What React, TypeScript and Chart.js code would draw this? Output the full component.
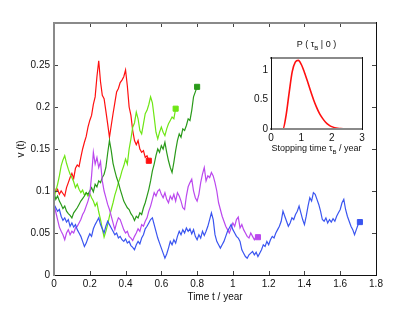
import React, { useEffect, useRef } from 'react';
import { Chart, registerables } from 'chart.js';
Chart.register(...registerables);

// ---- main chart data (time step between samples, in years) ----
const DT = 0.01;

const redV = [
  0.105, 0.099, 0.102, 0.096, 0.100, 0.097, 0.094, 0.104, 0.110, 0.116,
  0.121, 0.115, 0.127, 0.131, 0.129, 0.140, 0.150, 0.158, 0.165, 0.176,
  0.184, 0.190, 0.203, 0.212, 0.236, 0.255, 0.230, 0.214, 0.210, 0.195,
  0.180, 0.164, 0.178, 0.192, 0.205, 0.218, 0.222, 0.229, 0.232, 0.236,
  0.244, 0.225, 0.200, 0.190, 0.172, 0.160, 0.155, 0.160, 0.150, 0.146,
  0.148, 0.140, 0.142, 0.136,
];

const limeV = [
  0.092, 0.100, 0.108, 0.118, 0.130, 0.137, 0.142, 0.133, 0.126, 0.120,
  0.116, 0.111, 0.104, 0.108, 0.102, 0.098, 0.101, 0.095, 0.098, 0.094,
  0.097, 0.092, 0.088, 0.082, 0.086, 0.075, 0.066, 0.055, 0.045, 0.052,
  0.060, 0.070, 0.078, 0.086, 0.095, 0.102, 0.110, 0.116, 0.124, 0.130,
  0.138, 0.132, 0.150, 0.162, 0.176, 0.181, 0.194, 0.186, 0.172, 0.168,
  0.180, 0.192, 0.196, 0.203, 0.212, 0.205, 0.188, 0.170, 0.162, 0.170,
  0.176, 0.170, 0.166, 0.174, 0.180, 0.184, 0.188, 0.186, 0.198,
];

const greenV = [
  0.098, 0.090, 0.094, 0.088, 0.084, 0.079, 0.082, 0.076, 0.073, 0.071,
  0.068, 0.074, 0.077, 0.080, 0.084, 0.088, 0.091, 0.094, 0.098, 0.096,
  0.100, 0.104, 0.099, 0.108, 0.105, 0.112, 0.110, 0.116, 0.120, 0.128,
  0.145, 0.160, 0.148, 0.133, 0.124, 0.116, 0.110, 0.102, 0.095, 0.088,
  0.084, 0.080, 0.078, 0.073, 0.070, 0.065, 0.070, 0.068, 0.074, 0.072,
  0.080, 0.086, 0.094, 0.102, 0.112, 0.124, 0.132, 0.142, 0.150, 0.146,
  0.154, 0.150, 0.158, 0.146, 0.136, 0.128, 0.122, 0.134, 0.148, 0.160,
  0.168, 0.164, 0.174, 0.172, 0.178, 0.186, 0.184, 0.196, 0.212, 0.218,
  0.224,
];

const purpleV = [
  0.086, 0.075, 0.066, 0.057, 0.052, 0.048, 0.042, 0.050, 0.054, 0.048,
  0.052, 0.050, 0.056, 0.058, 0.062, 0.066, 0.072, 0.076, 0.082, 0.088,
  0.096, 0.118, 0.146, 0.132, 0.140, 0.128, 0.135, 0.112, 0.100, 0.092,
  0.084, 0.078, 0.070, 0.062, 0.054, 0.062, 0.068, 0.066, 0.060, 0.054,
  0.050, 0.052, 0.046, 0.044, 0.041, 0.046, 0.050, 0.055, 0.052, 0.060,
  0.058, 0.064, 0.068, 0.076, 0.082, 0.090, 0.098, 0.094, 0.100, 0.102,
  0.096, 0.092, 0.098, 0.090, 0.086, 0.094, 0.090, 0.096, 0.088, 0.098,
  0.094, 0.088, 0.080, 0.078, 0.094, 0.105, 0.110, 0.114, 0.100, 0.092,
  0.088, 0.096, 0.110, 0.120, 0.128, 0.112, 0.118, 0.116, 0.122, 0.118,
  0.110, 0.100, 0.086, 0.078, 0.070, 0.064, 0.058, 0.054, 0.050, 0.056,
  0.062, 0.058, 0.066, 0.069, 0.056, 0.060, 0.054, 0.050, 0.046, 0.044,
  0.050, 0.046, 0.042, 0.046, 0.045,
];

const blueV = [
  0.084, 0.080, 0.076, 0.078, 0.070, 0.065, 0.068, 0.063, 0.066, 0.058,
  0.062, 0.057, 0.060, 0.054, 0.050, 0.046, 0.040, 0.034, 0.038, 0.044,
  0.049, 0.046, 0.055, 0.060, 0.064, 0.068, 0.060, 0.055, 0.050, 0.058,
  0.064, 0.060, 0.056, 0.052, 0.048, 0.050, 0.044, 0.046, 0.042, 0.040,
  0.043, 0.038, 0.040, 0.035, 0.033, 0.030, 0.036, 0.040, 0.037, 0.044,
  0.048, 0.055, 0.058, 0.062, 0.066, 0.068, 0.060, 0.052, 0.044, 0.038,
  0.032, 0.026, 0.020, 0.025, 0.032, 0.040, 0.036, 0.042, 0.038, 0.046,
  0.052, 0.048, 0.054, 0.050, 0.056, 0.052, 0.055, 0.049, 0.054, 0.046,
  0.042, 0.048, 0.044, 0.052, 0.047, 0.052, 0.058, 0.066, 0.074, 0.066,
  0.048, 0.040, 0.036, 0.032, 0.036, 0.040, 0.046, 0.052, 0.056, 0.060,
  0.054, 0.050, 0.046, 0.044, 0.040, 0.030, 0.026, 0.022, 0.020, 0.024,
  0.026, 0.028, 0.024, 0.027, 0.022, 0.026, 0.030, 0.036, 0.034, 0.040,
  0.036, 0.042, 0.046, 0.044, 0.050, 0.054, 0.058, 0.064, 0.076, 0.070,
  0.064, 0.058, 0.062, 0.068, 0.066, 0.072, 0.076, 0.082, 0.074, 0.066,
  0.060, 0.070, 0.082, 0.092, 0.088, 0.098, 0.096, 0.090, 0.084, 0.076,
  0.066, 0.064, 0.068, 0.062, 0.066, 0.063, 0.067, 0.064, 0.070, 0.074,
  0.078, 0.086, 0.090, 0.078, 0.070, 0.064, 0.058, 0.054, 0.048, 0.054,
  0.060, 0.063,
];

const seriesNames = ['blue', 'purple', 'darkgreen', 'lime', 'red'];
const seriesValues = [blueV, purpleV, greenV, limeV, redV];
const seriesColors = ['#3a55f0', '#bb48ee', '#2a9a1a', '#6ee614', '#ff1010'];

const xTicks = [0, 0.2, 0.4, 0.6, 0.8, 1, 1.2, 1.4, 1.6, 1.8];
const xTickLabels = ['0', '0.2', '0.4', '0.6', '0.8', '1', '1.2', '1.4', '1.6', '1.8'];
const yTicks = [0, 0.05, 0.1, 0.15, 0.2, 0.25, 0.3];
const yTickLabels = ['0', '0.05', '0.1', '0.15', '0.2', '0.25', ''];

// ---- inset data ----
const tau = [
  0, 0.1, 0.2, 0.3, 0.4, 0.5, 0.6, 0.7, 0.8, 0.9, 1.0,
  1.1, 1.2, 1.3, 1.4, 1.5, 1.6, 1.7, 1.8, 1.9, 2.0,
  2.1, 2.2, 2.3, 2.4, 2.5, 2.6, 2.7, 2.8, 2.9, 3.0,
];
const pdf = [
  0, 0, 0, 0, 0.005, 0.24, 0.62, 0.97, 1.13, 1.16, 1.09,
  0.96, 0.81, 0.65, 0.50, 0.37, 0.26, 0.18, 0.115, 0.07, 0.04,
  0.022, 0.012, 0.006, 0.003, 0.001, 0, 0, 0, 0, 0,
];
const insetXTicks = [0, 1, 2, 3];
const insetXTickLabels = ['0', '1', '2', '3'];
const insetYTicks = [0, 0.5, 1];
const insetYTickLabels = ['0', '0.5', '1'];

const FONT = "'Liberation Sans', Arial, Helvetica, sans-serif";
const TEXT = '#111';

type FrameCfg = {
  left: [string, number];
  right: [string, number];
  top: [string, number];
  bottom: [string, number];
  xTicks?: number[];
  yTicks?: number[];
  tickLen?: number;
  tickColor?: string;
};

function makeFrame(cfg: FrameCfg) {
  return {
    id: 'frame',
    afterDatasetsDraw(chart: any) {
      const { ctx, chartArea: a, scales } = chart;
      ctx.save();
      const seg = (x1: number, y1: number, x2: number, y2: number, c: string, w: number) => {
        ctx.beginPath();
        ctx.strokeStyle = c;
        ctx.lineWidth = w;
        ctx.moveTo(x1, y1);
        ctx.lineTo(x2, y2);
        ctx.stroke();
      };
      const L = cfg.tickLen || 0;
      if (L > 0) {
        const tc = cfg.tickColor || '#333';
        (cfg.xTicks || []).forEach((v) => {
          const px = Math.round(scales.x.getPixelForValue(v)) + 0.5;
          seg(px, a.bottom, px, a.bottom - L, tc, 1);
          seg(px, a.top, px, a.top + L, tc, 1);
        });
        (cfg.yTicks || []).forEach((v) => {
          const py = Math.round(scales.y.getPixelForValue(v)) + 0.5;
          seg(a.left, py, a.left + L, py, tc, 1);
          seg(a.right, py, a.right - L, py, tc, 1);
        });
      }
      const off = (w: number) => (w % 2 === 1 ? 0.5 : 0);
      seg(a.left - 1, a.top + off(cfg.top[1]), a.right + 1, a.top + off(cfg.top[1]), cfg.top[0], cfg.top[1]);
      seg(a.left - 1, a.bottom + off(cfg.bottom[1]), a.right + 1, a.bottom + off(cfg.bottom[1]), cfg.bottom[0], cfg.bottom[1]);
      seg(a.left + off(cfg.left[1]), a.top - 1, a.left + off(cfg.left[1]), a.bottom + 1, cfg.left[0], cfg.left[1]);
      seg(a.right + off(cfg.right[1]), a.top - 1, a.right + off(cfg.right[1]), a.bottom + 1, cfg.right[0], cfg.right[1]);
      ctx.restore();
    },
  };
}

type Part = { t: string; sub?: boolean };
function drawParts(ctx: CanvasRenderingContext2D, parts: Part[], cx: number, cy: number, size: number) {
  const base = `${size}px ${FONT}`;
  const small = `${Math.round(size * 0.7)}px ${FONT}`;
  const widths = parts.map((p) => {
    ctx.font = p.sub ? small : base;
    return ctx.measureText(p.t).width;
  });
  const total = widths.reduce((s, w) => s + w, 0);
  let x = cx - total / 2;
  ctx.fillStyle = TEXT;
  ctx.textBaseline = 'middle';
  ctx.textAlign = 'left';
  parts.forEach((p, i) => {
    ctx.font = p.sub ? small : base;
    ctx.fillText(p.t, x, p.sub ? cy + 3.5 : cy);
    x += widths[i];
  });
}

const insetText = {
  id: 'insetText',
  afterDraw(chart: any) {
    const { ctx, chartArea: a } = chart;
    const cx = (a.left + a.right) / 2;
    ctx.save();
    drawParts(ctx, [{ t: 'P ( τ' }, { t: 'B', sub: true }, { t: ' | 0 )' }], cx, a.top - 13, 9);
    drawParts(ctx, [{ t: 'Stopping time τ' }, { t: 'B', sub: true }, { t: ' / year' }], cx, a.bottom + 20, 9);
    ctx.restore();
  },
};

export default function App() {
  const mainRef = useRef<HTMLCanvasElement>(null);
  const insetRef = useRef<HTMLCanvasElement>(null);

  useEffect(() => {
    const font10 = { family: FONT, size: 10 };

    const main = new Chart(mainRef.current as HTMLCanvasElement, {
      type: 'line',
      data: {
        datasets: seriesValues.map((vals, si) => ({
          label: seriesNames[si],
          data: vals.map((v, i) => ({ x: Math.round(i * DT * 100) / 100, y: v })),
          borderColor: seriesColors[si],
          backgroundColor: seriesColors[si],
          borderWidth: 1.2,
          pointStyle: 'rect',
          pointRadius: (c: any) => (c.dataIndex === vals.length - 1 ? 3.6 : 0),
          pointBorderWidth: 1,
          pointHoverRadius: 0,
          tension: 0,
          fill: false,
        })),
      },
      options: {
        responsive: false,
        animation: false,
        events: [],
        layout: { padding: { top: 23, right: 39, left: 0, bottom: 0 } },
        plugins: { legend: { display: false }, tooltip: { enabled: false } },
        scales: {
          x: {
            type: 'linear',
            min: 0,
            max: 1.8,
            afterFit: (s: any) => { s.height = 35; },
            afterBuildTicks: (s: any) => { s.ticks = xTicks.map((v) => ({ value: v })); },
            ticks: {
              callback: (_v: any, i: number) => xTickLabels[i],
              padding: 3,
              font: font10,
              color: TEXT,
              maxRotation: 0,
              autoSkip: false,
            },
            grid: { display: false, drawTicks: false },
            border: { display: false },
            title: { display: true, text: 'Time t / year', padding: { top: 0, bottom: 7 }, font: font10, color: TEXT },
          },
          y: {
            type: 'linear',
            min: 0,
            max: 0.3,
            afterFit: (s: any) => { s.width = 54; },
            afterBuildTicks: (s: any) => { s.ticks = yTicks.map((v) => ({ value: v })); },
            ticks: {
              callback: (_v: any, i: number) => yTickLabels[i],
              padding: 4,
              font: font10,
              color: TEXT,
              autoSkip: false,
            },
            grid: { display: false, drawTicks: false },
            border: { display: false },
            title: { display: true, text: 'v (t)', padding: { top: 15, bottom: 0 }, font: font10, color: TEXT },
          },
        },
      },
      plugins: [
        makeFrame({
          left: ['#8a8a8a', 2],
          top: ['#8a8a8a', 2],
          bottom: ['#111', 1],
          right: ['#111', 1],
          xTicks: xTicks.slice(1, -1),
          yTicks: yTicks.slice(1, -1),
          tickLen: 4,
          tickColor: '#444',
        }),
      ],
    } as any);

    const inset = new Chart(insetRef.current as HTMLCanvasElement, {
      type: 'line',
      data: {
        datasets: [
          {
            label: 'P',
            data: tau.map((t, i) => ({ x: t, y: pdf[i] })),
            borderColor: '#ff1010',
            borderWidth: 1.6,
            pointRadius: 0,
            cubicInterpolationMode: 'monotone',
            fill: false,
          },
        ],
      },
      options: {
        responsive: false,
        animation: false,
        events: [],
        layout: { padding: { top: 33, right: 8, left: 0, bottom: 0 } },
        plugins: { legend: { display: false }, tooltip: { enabled: false } },
        scales: {
          x: {
            type: 'linear',
            min: 0,
            max: 3,
            afterFit: (s: any) => { s.height = 36; },
            afterBuildTicks: (s: any) => { s.ticks = insetXTicks.map((v) => ({ value: v })); },
            ticks: {
              callback: (_v: any, i: number) => insetXTickLabels[i],
              padding: 3,
              font: font10,
              color: TEXT,
              maxRotation: 0,
              autoSkip: false,
            },
            grid: { display: false, drawTicks: false },
            border: { display: false },
          },
          y: {
            type: 'linear',
            min: 0,
            max: 1.2,
            afterFit: (s: any) => { s.width = 51; },
            afterBuildTicks: (s: any) => { s.ticks = insetYTicks.map((v) => ({ value: v })); },
            ticks: {
              callback: (_v: any, i: number) => insetYTickLabels[i],
              padding: 3,
              font: font10,
              color: TEXT,
              autoSkip: false,
            },
            grid: { display: false, drawTicks: false },
            border: { display: false },
          },
        },
      },
      plugins: [
        makeFrame({
          left: ['#111', 1],
          right: ['#111', 1],
          top: ['#8a8a8a', 2],
          bottom: ['#8a8a8a', 2],
        }),
        insetText,
      ],
    } as any);

    return () => {
      main.destroy();
      inset.destroy();
    };
  }, []);

  return (
    <div style={{ position: 'fixed', left: 0, top: 0, width: 415, height: 310, background: '#fff' }}>
      <canvas ref={mainRef} width={415} height={310} style={{ position: 'absolute', left: 0, top: 0 }} />
      <canvas ref={insetRef} width={150} height={140} style={{ position: 'absolute', left: 220, top: 25 }} />
    </div>
  );
}
